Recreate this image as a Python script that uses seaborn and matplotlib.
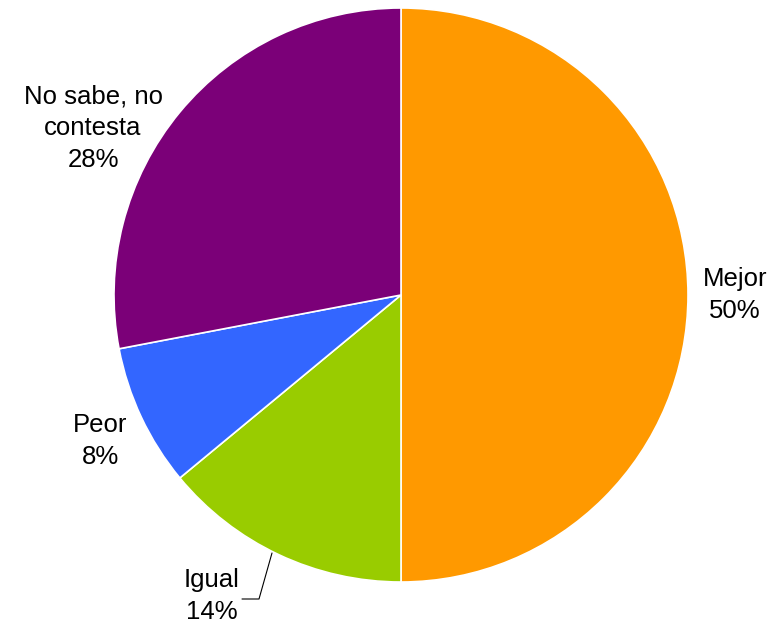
import numpy as np
import matplotlib
matplotlib.use("Agg")
import matplotlib.pyplot as plt
import seaborn as sns

labels = ["Mejor", "Igual", "Peor", "No sabe, no\ncontesta"]
values = [50, 14, 8, 28]
colors = ["#FF9900", "#99CC00", "#3366FF", "#7B0078"]

sns.set_theme(style="white")
plt.rcParams["font.family"] = ["Liberation Sans", "DejaVu Sans"]

fig = plt.figure(figsize=(7.84, 6.28), dpi=100)
ax = fig.add_axes([0, 0, 1, 1])

wedges, _ = ax.pie(values, colors=sns.color_palette(colors), startangle=90,
                   counterclock=False, radius=1,
                   wedgeprops=dict(edgecolor="white", linewidth=1.2))

# label centres, in pixels of the original picture
s = 287
cx, cy = 401, 295
label_px = [(735, 295), (212, 596), (100, 441), (93, 128)]

total = sum(values)
for lab, v, (px, py) in zip(labels, values, label_px):
    ax.text((px - cx) / s, (cy - py) / s, f"{lab}\n{v / total:.0%}",
            ha="center", va="center", fontsize=18.5, linespacing=1.4, color="black")

# leader line for Igual
ax.plot([(242 - cx) / s, (259 - cx) / s, (272 - cx) / s],
        [(cy - 599) / s, (cy - 599) / s, (cy - 553) / s], color="black", lw=0.8)

ax.set_xlim(-cx / s, (784 - cx) / s)
ax.set_ylim(-(628 - cy) / s, cy / s)
ax.set_aspect("equal")
ax.axis("off")

fig.savefig("out.png", dpi=100)
